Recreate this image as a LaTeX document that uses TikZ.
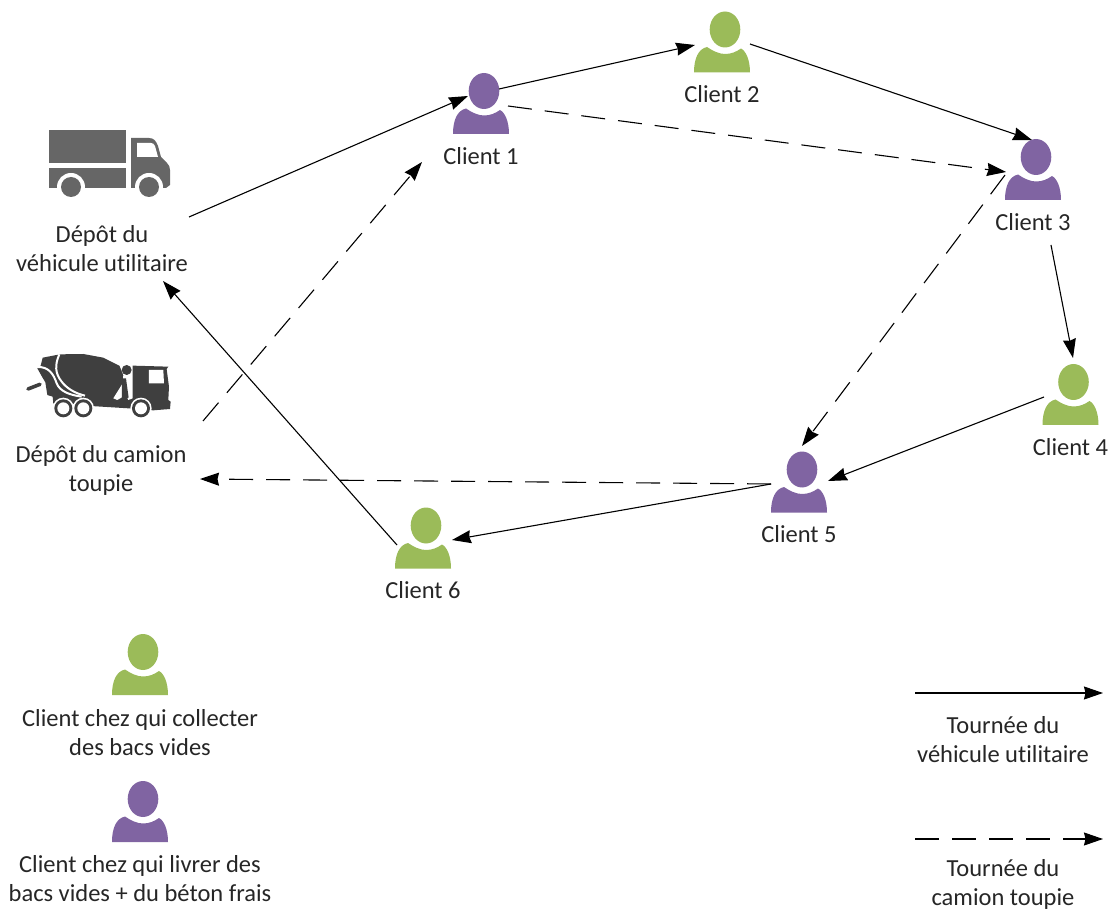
\documentclass[tikz,border=0pt]{standalone}
\usepackage{fontspec}
\setmainfont[Ligatures=NoCommon]{Carlito}
\usetikzlibrary{arrows.meta,positioning}
\definecolor{clientgreen}{HTML}{9BBB59}
\definecolor{clientpurple}{HTML}{8064A2}
\definecolor{truckgrey}{HTML}{666666}
\definecolor{mixergrey}{HTML}{3F3F3F}
\definecolor{textgrey}{HTML}{262626}
\newcommand{\personicon}[1]{%
  \begin{scope}[shift=(path picture bounding box.center)]
    \fill[#1] (-28,30.5) .. controls (-28,17) and (-24,7) .. (-15,5)
      .. controls (-9,9) and (-3,12) .. (3,12)
      .. controls (9,12) and (14,10) .. (19,6.5)
      .. controls (24,9) and (28,18) .. (28,30.5) -- cycle;
    \fill[#1] (3,-12.5) ellipse (15.3 and 18);
  \end{scope}}
\tikzset{
  person/.style={inner sep=0pt,minimum width=56pt,minimum height=61pt,
    path picture={\personicon{#1}}},
  lbl/.style={inner sep=0pt,align=center,text=textgrey,
    font=\fontsize{24.5}{29}\selectfont},
  clientlbl/.style={lbl,below=13pt of #1},
  tour/.style={draw=black,line width=1.1pt,-{Stealth[length=19pt,width=13pt,inset=1.5pt]}},
  tourdash/.style={tour,dash pattern=on 24pt off 13pt}
}
\begin{document}
\begin{tikzpicture}[x=1pt,y=-1pt]
  \useasboundingbox (0,0) rectangle (1112,909);
  \begin{scope}
    \node (c1) [person=clientpurple] at (481,103.5) {};
    \node (c2) [person=clientgreen] at (722,42) {};
    \node (c3) [person=clientpurple] at (1033,169.5) {};
    \node (c4) [person=clientgreen] at (1070.5,394.5) {};
    \node (c5) [person=clientpurple] at (799,482) {};
    \node (c6) [person=clientgreen] at (423,538) {};
    \node (lg) [person=clientgreen] at (140,664.5) {};
    \node (lp) [person=clientpurple] at (140,811.5) {};
  \end{scope}
  \begin{scope}
    \node (c1t) [clientlbl=c1] {Client 1};
    \node (c2t) [clientlbl=c2] {Client 2};
    \node (c3t) [clientlbl=c3] {Client 3};
    \node (c4t) [clientlbl=c4] {Client 4};
    \node (c5t) [clientlbl=c5] {Client 5};
    \node (c6t) [clientlbl=c6] {Client 6};
    \node (dep1) [lbl] at (102,249) {Dépôt du\\véhicule utilitaire};
    \node (dep2) [lbl] at (101,470) {Dépôt du camion\\toupie};
    \node (lgt) [lbl] at (140,733) {Client chez qui collecter\\des bacs vides};
    \node (lpt) [lbl] at (140,879) {Client chez qui livrer des\\bacs vides + du béton frais};
    \node (ltv) [lbl] at (1003,740) {Tournée du\\véhicule utilitaire};
    \node (ltc) [lbl] at (1003,884) {Tournée du\\camion toupie};
  \end{scope}
  % truck
  \begin{scope}[truckgrey]
    \fill (49,130) rectangle (126,163);
    \fill (49,168) rectangle (126,188);
    \fill (131,188) -- (131,138) -- (149,138) .. controls (154,138) and (156,141) .. (158,146)
      -- (161,157) -- (167,163) .. controls (169,165) and (170,167) .. (170,170)
      -- (170,185) -- (166,188) -- cycle;
    \fill[white] (137,143) -- (151,143) .. controls (153,143) and (154,144) .. (155,146)
      -- (158,157) -- (137,157) -- cycle;
    \fill[white] (71,187) circle (14) (149,187) circle (14);
    \fill (71,187) circle (10) (149,187) circle (10);
  \end{scope}
  % mixer
  \begin{scope}[shift={(20,345)},x=0.3333pt,y=-0.3333pt,mixergrey]
    \fill (68,38) -- (120,28) -- (190,27) -- (250,38) -- (298,62) -- (340,62) -- (445,65)
      -- (440,72) -- (447,125) -- (445,165) -- (452,170) -- (450,192) -- (400,196)
      -- (325,190) -- (100,176) -- (98,155) -- (82,150) -- (76,112) -- (66,95) -- (52,70) -- (62,62) -- cycle;
    \draw[line width=3.6pt,line cap=round] (24,132) -- (60,118);
    \draw[white,line width=2pt] (118,28) .. controls (104,60) and (105,85) .. (125,110)
      .. controls (140,130) and (165,145) .. (195,152);
    \draw[white,line width=2pt] (52,66) .. controls (85,65) and (100,85) .. (110,115)
      .. controls (120,140) and (150,150) .. (185,155);
    \fill[white] (298,60) -- (338,60) -- (338,160) -- (325,165) -- (318,150) -- (292,165) -- (280,160) -- (308,115) -- (310,90) -- cycle;
    \fill (320,75) circle (15);
    \fill (306,100) -- (318,100) -- (326,158) -- (306,160) -- cycle;
    \fill[white] (387,75) -- (430,75) -- (432,115) -- (387,115) -- cycle;
    \fill[white] (130,190) circle (32) (190,190) circle (32) (363,190) circle (32);
    \fill (130,190) circle (27) (190,190) circle (27) (363,190) circle (27);
    \fill[white] (130,190) circle (18) (190,190) circle (18) (363,190) circle (18);
  \end{scope}
  \coordinate (lts) at (915,693);
  \coordinate (lte) at (1103,693);
  \coordinate (lds) at (915,839);
  \coordinate (lde) at (1103,839);
  \begin{scope}[every edge/.style={tour}]
    \path ([shift={(87,-32)}]dep1.center) edge ([shift={(-13,-7.5)}]c1.center);
    \path ([shift={(18,-14.5)}]c1.center) edge ([shift={(-27,3)}]c2.center);
    \path ([shift={(28,2)}]c2.center) edge ([shift={(-1,-29.5)}]c3.center);
    \path ([shift={(18,23)}]c3t.center) edge ([shift={(2.5,-36.5)}]c4.center);
    \path ([shift={(-26.5,2.5)}]c4.center) edge ([shift={(29,-1)}]c5.center);
    \path ([shift={(-28,2)}]c5.center) edge ([shift={(29,2)}]c6.center);
    \path ([shift={(-26,7)}]c6.center) edge ([shift={(61,32)}]dep1.center);
    \path (lts) edge (lte);
  \end{scope}
  \begin{scope}[every edge/.style={tourdash}]
    \path ([shift={(102,-49)}]dep2.center) edge ([shift={(-59,58.5)}]c1.center);
    \path ([shift={(27,2.5)}]c1.center) edge ([shift={(-27,2.5)}]c3.center);
    \path ([shift={(-28,5.5)}]c3.center) edge ([shift={(3,-36)}]c5.center);
    \path ([shift={(-28,2)}]c5.center) edge ([shift={(99,9)}]dep2.center);
    \path (lds) edge (lde);
  \end{scope}
\end{tikzpicture}
\end{document}
